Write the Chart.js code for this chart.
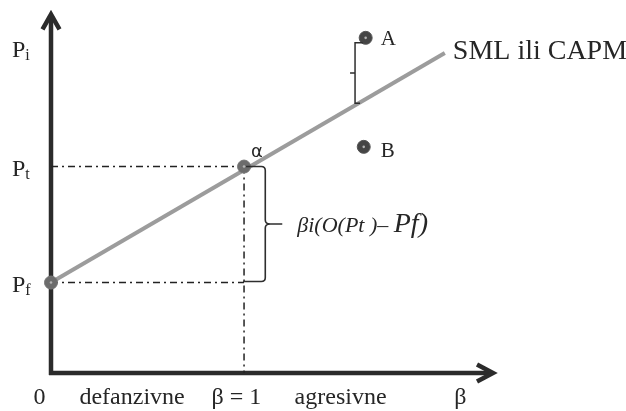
<!DOCTYPE html>
<html><head><meta charset="utf-8">
<script src="https://cdn.jsdelivr.net/npm/chart.js@4.4.1/dist/chart.umd.min.js"></script>
<style>html,body{margin:0;padding:0;background:#fff}#wrap{width:626px;height:411px;position:relative}</style>
</head><body><div id="wrap"><canvas id="c" width="626" height="411"></canvas></div>
<script>
// ---- data ----
const smlBeta = [0, 2.04];
const smlReturn = [1, 2.98];
const pointNames = ['Pf', 'α', 'A', 'B'];
const pointBeta = [0, 1, 1.63, 1.62];
const pointReturn = [1, 2, 3.11, 2.17];
const yTickLabels = [['P', 'i'], ['P', 't'], ['P', 'f']];
const yTickValues = [3.02, 2, 1];
const xTickLabels = ['0', 'defanzivne', 'β = 1', 'agresivne', 'β'];
const xTickValues = [-0.06, 0.42, 0.96, 1.5, 2.12];
const marketBeta = 1;
const braceBeta = 1.11;
const bracketBeta = 1.575;
const formulaParts = ['βi(O(Pt )– ', 'Pf)'];
const lineLabel = 'SML ili CAPM';

const X_MIN = 0, X_MAX = 2.3, Y_MIN = 0.22, Y_MAX = 3.35;
const SERIF = '"Liberation Serif", "Times New Roman", serif';
const INK = '#262626';

const pts = (xs, ys) => xs.map((x, i) => ({x, y: ys[i]}));

const overlay = {
  id: 'overlay',
  beforeDatasetsDraw(chart) {
    const {ctx, scales: {x: xs, y: ys}} = chart;
    const x0 = xs.getPixelForValue(0), y0 = ys.getPixelForValue(Y_MIN);
    const yTop = ys.getPixelForValue(3.33), xTip = xs.getPixelForValue(X_MAX);
    ctx.save();
    ctx.strokeStyle = '#2b2b2b';
    ctx.lineWidth = 4.5;
    ctx.lineCap = 'butt';
    ctx.lineJoin = 'miter';
    ctx.beginPath();
    ctx.moveTo(x0, y0 + 2); ctx.lineTo(x0, yTop + 3);
    ctx.moveTo(x0 - 2, y0); ctx.lineTo(xTip - 3, y0);
    ctx.stroke();
    ctx.beginPath();
    ctx.moveTo(x0 - 8.5, yTop + 17); ctx.lineTo(x0, yTop + 2); ctx.lineTo(x0 + 8.5, yTop + 17);
    ctx.moveTo(xTip - 18, y0 - 8.5); ctx.lineTo(xTip - 2, y0); ctx.lineTo(xTip - 18, y0 + 8.5);
    ctx.stroke();
    ctx.restore();
  },
  afterDatasetsDraw(chart) {
    const {ctx, scales: {x: xs, y: ys}} = chart;
    ctx.save();
    ctx.fillStyle = INK;
    ctx.strokeStyle = '#2e2e2e';
    // brace between Pt and Pf
    const bx = xs.getPixelForValue(braceBeta);
    const bl = xs.getPixelForValue(marketBeta);
    const bt = ys.getPixelForValue(2), bb = ys.getPixelForValue(1) - 1;
    const bm = (bt + bb) / 2;
    ctx.lineWidth = 1.6;
    ctx.beginPath();
    ctx.moveTo(bl + 2, bt); ctx.lineTo(bx - 4, bt);
    ctx.quadraticCurveTo(bx, bt, bx, bt + 4);
    ctx.lineTo(bx, bm - 4);
    ctx.quadraticCurveTo(bx, bm, bx + 5, bm);
    ctx.lineTo(bx + 17, bm);
    ctx.moveTo(bx + 5, bm);
    ctx.quadraticCurveTo(bx, bm, bx, bm + 4);
    ctx.lineTo(bx, bb - 4);
    ctx.quadraticCurveTo(bx, bb, bx - 4, bb);
    ctx.lineTo(bl - 1, bb);
    ctx.stroke();
    // small bracket between A and SML
    const kx = xs.getPixelForValue(bracketBeta);
    const kt = ys.getPixelForValue(pointReturn[2]) + 5;
    const slope = (smlReturn[1] - smlReturn[0]) / (smlBeta[1] - smlBeta[0]);
    const kb = ys.getPixelForValue(smlReturn[0] + slope * bracketBeta) - 2;
    ctx.lineWidth = 1.5;
    ctx.beginPath();
    ctx.moveTo(xs.getPixelForValue(pointBeta[2]) - 3, kt); ctx.lineTo(kx, kt);
    ctx.lineTo(kx, kb); ctx.lineTo(kx + 5, kb);
    ctx.moveTo(kx - 5, (kt + kb) / 2); ctx.lineTo(kx, (kt + kb) / 2);
    ctx.stroke();
    // formula
    ctx.textBaseline = 'alphabetic';
    ctx.textAlign = 'left';
    let fx = bx + 32, fy = bm + 8;
    ctx.font = 'italic 22px ' + SERIF;
    ctx.fillText(formulaParts[0], fx, fy);
    fx += ctx.measureText(formulaParts[0]).width;
    ctx.font = 'italic 28px ' + SERIF;
    ctx.fillText(formulaParts[1], fx, fy);
    // point labels
    const apx = xs.getPixelForValue(pointBeta[2]), apy = ys.getPixelForValue(pointReturn[2]);
    const bpx = xs.getPixelForValue(pointBeta[3]), bpy = ys.getPixelForValue(pointReturn[3]);
    ctx.font = '21px ' + SERIF;
    ctx.fillText(pointNames[2], apx + 15, apy + 7);
    ctx.fillText(pointNames[3], bpx + 17, bpy + 10);
    ctx.font = '18px "DejaVu Sans", sans-serif';
    ctx.fillText(pointNames[1], xs.getPixelForValue(pointBeta[1]) + 7, ys.getPixelForValue(pointReturn[1]) - 10);
    // SML label
    ctx.font = '28px ' + SERIF;
    ctx.fillText(lineLabel, xs.getPixelForValue(smlBeta[1]) + 8, ys.getPixelForValue(smlReturn[1]) + 6);
    // y tick labels with subscripts
    yTickLabels.forEach((lab, i) => {
      const py = ys.getPixelForValue(yTickValues[i]) + 9;
      ctx.font = '24px ' + SERIF;
      ctx.fillText(lab[0], 12, py);
      const w = ctx.measureText(lab[0]).width;
      ctx.font = '16px ' + SERIF;
      ctx.fillText(lab[1], 12 + w, py + 3);
    });
    // x tick labels
    ctx.font = '24px ' + SERIF;
    ctx.textAlign = 'center';
    xTickLabels.forEach((lab, i) => {
      ctx.fillText(lab, xs.getPixelForValue(xTickValues[i]), 404);
    });
    ctx.restore();
  }
};

const dash = [7, 4, 2, 4];
new Chart(document.getElementById('c'), {
  type: 'scatter',
  data: {
    datasets: [
      { data: pts(pointBeta.slice(0, 2), pointReturn.slice(0, 2)), pointRadius: 6.5, pointHoverRadius: 6.5,
        backgroundColor: '#6c6c6c', borderColor: '#777', borderWidth: 1, order: 0, clip: false },
      { data: pts(pointBeta.slice(2), pointReturn.slice(2)), pointRadius: 6.5, pointHoverRadius: 6.5,
        backgroundColor: '#454545', borderColor: '#555', borderWidth: 1, order: 0, clip: false },
      { data: pts(pointBeta, pointReturn), pointRadius: 1.3, backgroundColor: '#b5b5b5', borderWidth: 0, order: -1, clip: false },
      { type: 'line', data: pts(smlBeta, smlReturn), borderColor: '#9c9c9c', borderWidth: 4, pointRadius: 0, order: 1, clip: false },
      { type: 'line', data: pts([0, marketBeta], [2, 2]), borderColor: '#222', borderWidth: 1.5, borderDash: dash, pointRadius: 0, order: 2 },
      { type: 'line', data: pts([0, marketBeta], [1, 1]), borderColor: '#222', borderWidth: 1.5, borderDash: dash, pointRadius: 0, order: 2 },
      { type: 'line', data: pts([marketBeta, marketBeta], [2, Y_MIN]), borderColor: '#222', borderWidth: 1.5, borderDash: dash, pointRadius: 0, order: 2 }
    ]
  },
  options: {
    responsive: false,
    animation: false,
    events: [],
    layout: { padding: { left: 51, right: 131, top: 10, bottom: 38 } },
    plugins: { legend: { display: false }, tooltip: { enabled: false } },
    scales: {
      x: { type: 'linear', min: X_MIN, max: X_MAX, display: false },
      y: { type: 'linear', min: Y_MIN, max: Y_MAX, display: false }
    }
  },
  plugins: [overlay]
});
</script></body></html>
